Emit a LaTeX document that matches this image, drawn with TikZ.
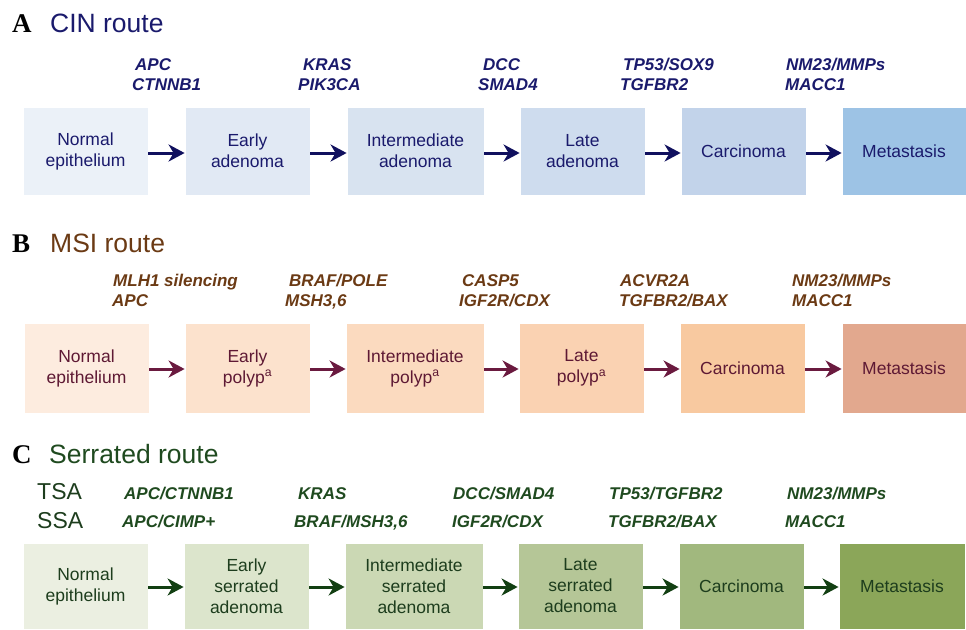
\documentclass[tikz,border=0pt]{standalone}
\usepackage{fontspec}
\setmainfont{Liberation Sans}
\newfontfamily\serifb{Liberation Serif}
\usetikzlibrary{arrows.meta}
\definecolor{aBox1}{HTML}{EBF1F8}
\definecolor{aBox2}{HTML}{E1E9F4}
\definecolor{aBox3}{HTML}{D8E3F0}
\definecolor{aBox4}{HTML}{CEDCEE}
\definecolor{aBox5}{HTML}{C2D3EA}
\definecolor{aBox6}{HTML}{9DC3E5}
\definecolor{aTxt}{HTML}{1A1A6C}
\definecolor{aArr}{HTML}{10105E}
\definecolor{bBox1}{HTML}{FDECDF}
\definecolor{bBox2}{HTML}{FCE2CD}
\definecolor{bBox3}{HTML}{FBDABF}
\definecolor{bBox4}{HTML}{FAD2B2}
\definecolor{bBox5}{HTML}{F8C9A0}
\definecolor{bBox6}{HTML}{E2A88E}
\definecolor{bTitle}{HTML}{6B3A14}
\definecolor{bTxt}{HTML}{5E1934}
\definecolor{bArr}{HTML}{6A1A3F}
\definecolor{cBox1}{HTML}{EBEFE1}
\definecolor{cBox2}{HTML}{DCE5CC}
\definecolor{cBox3}{HTML}{CBD8B4}
\definecolor{cBox4}{HTML}{B5C697}
\definecolor{cBox5}{HTML}{A1B87E}
\definecolor{cBox6}{HTML}{8BA659}
\definecolor{cTitle}{HTML}{1F4A1F}
\definecolor{cTxt}{HTML}{1D3D1D}
\definecolor{cArr}{HTML}{123F12}
\tikzset{
  stage/.style={rectangle, draw=white, line width=0.8pt, inner sep=0pt, align=center,
    font=\fontsize{17.5}{21}\selectfont},
  gene/.style={anchor=base west, inner sep=0pt, font=\fontsize{17}{20}\selectfont\bfseries\itshape},
  letter/.style={anchor=base west, inner sep=0pt, font=\fontsize{27}{30}\selectfont\serifb\bfseries, text=black},
  title/.style={anchor=base west, inner sep=0pt, font=\fontsize{26.5}{30}\selectfont},
  arr/.style={line width=3pt, -{Stealth[length=16pt,width=17pt,inset=5pt]}},
}
\begin{document}
\begin{tikzpicture}[x=1pt,y=-1pt]
\useasboundingbox (0,0) rectangle (966,629);
% ---------------- A ----------------
\node[letter] (la) at (12,32) {A};
\node[title, text=aTxt] (ta) at (50,32) {CIN route};
\begin{scope}[every node/.append style={text=aTxt}]
\node[gene] (ga1a) at (135,70) {APC};
\node[gene] (ga1b) at (132,90) {CTNNB1};
\node[gene] (ga2a) at (303,70) {KRAS};
\node[gene] (ga2b) at (298,90) {PIK3CA};
\node[gene] (ga3a) at (483,70) {DCC};
\node[gene] (ga3b) at (478,90) {SMAD4};
\node[gene] (ga4a) at (623,70) {TP53/SOX9};
\node[gene] (ga4b) at (620,90) {TGFBR2};
\node[gene] (ga5a) at (786,70) {NM23/MMPs};
\node[gene] (ga5b) at (785,90) {MACC1};
\node[stage, fill=aBox1, minimum width=125pt, minimum height=88pt] (a1) at (85.5,151) {Normal\\epithelium};
\node[stage, fill=aBox2, minimum width=125pt, minimum height=88pt] (a2) at (247.5,151) {Early\\adenoma};
\node[stage, fill=aBox3, minimum width=137pt, minimum height=88pt] (a3) at (415.5,151) {Intermediate\\adenoma};
\node[stage, fill=aBox4, minimum width=125pt, minimum height=88pt] (a4) at (582.5,151) {Late\\adenoma};
\node[stage, fill=aBox5, minimum width=125pt, minimum height=88pt] (a5) at (743.5,151) {Carcinoma};
\node[stage, fill=aBox6, minimum width=124pt, minimum height=88pt] (a6) at (904,151) {Metastasis};
\end{scope}
\foreach \s/\t in {a1/a2,a2/a3,a3/a4,a4/a5,a5/a6}
  \draw[arr, aArr] ([yshift=-2pt]\s.east) -- ([yshift=-2pt]\t.west);
% ---------------- B ----------------
\node[letter] (lb) at (12,252) {B};
\node[title, text=bTitle] (tb) at (50,252) {MSI route};
\begin{scope}[every node/.append style={text=bTitle}]
\node[gene] (gb1a) at (113,286) {MLH1 silencing};
\node[gene] (gb1b) at (112,306) {APC};
\node[gene] (gb2a) at (289,286) {BRAF/POLE};
\node[gene] (gb2b) at (285,306) {MSH3,6};
\node[gene] (gb3a) at (462,286) {CASP5};
\node[gene] (gb3b) at (459,306) {IGF2R/CDX};
\node[gene] (gb4a) at (620,286) {ACVR2A};
\node[gene] (gb4b) at (619,306) {TGFBR2/BAX};
\node[gene] (gb5a) at (792,286) {NM23/MMPs};
\node[gene] (gb5b) at (792,306) {MACC1};
\end{scope}
\begin{scope}[every node/.append style={text=bTxt}]
\node[stage, fill=bBox1, minimum width=125pt, minimum height=90pt] (b1) at (86.5,368) {Normal\\epithelium};
\node[stage, fill=bBox2, minimum width=125pt, minimum height=90pt] (b2) at (247.5,368) {Early\\polyp\textsuperscript{a}};
\node[stage, fill=bBox3, minimum width=138pt, minimum height=90pt] (b3) at (415,368) {Intermediate\\polyp\textsuperscript{a}};
\node[stage, fill=bBox4, minimum width=125pt, minimum height=90pt] (b4) at (581.5,368) {Late\\polyp\textsuperscript{a}};
\node[stage, fill=bBox5, minimum width=125pt, minimum height=90pt] (b5) at (742.5,368) {Carcinoma};
\node[stage, fill=bBox6, minimum width=124pt, minimum height=90pt] (b6) at (904,368) {Metastasis};
\end{scope}
\foreach \s/\t in {b1/b2,b2/b3,b3/b4,b4/b5,b5/b6}
  \draw[arr, bArr] ([yshift=-1pt]\s.east) -- ([yshift=-1pt]\t.west);
% ---------------- C ----------------
\node[letter] (lc) at (12,463) {C};
\node[title, text=cTitle] (tc) at (49,463) {Serrated route};
\node[title, font=\fontsize{23}{26}\selectfont, text=cTxt] (tsa) at (37,499) {TSA};
\node[title, font=\fontsize{23}{26}\selectfont, text=cTxt] (ssa) at (37,528) {SSA};
\begin{scope}[every node/.append style={text=cTitle}]
\node[gene] (gc1a) at (124,499) {APC/CTNNB1};
\node[gene] (gc1b) at (122,527) {APC/CIMP+};
\node[gene] (gc2a) at (298,499) {KRAS};
\node[gene] (gc2b) at (294,527) {BRAF/MSH3,6};
\node[gene] (gc3a) at (453,499) {DCC/SMAD4};
\node[gene] (gc3b) at (452,527) {IGF2R/CDX};
\node[gene] (gc4a) at (609,499) {TP53/TGFBR2};
\node[gene] (gc4b) at (608,527) {TGFBR2/BAX};
\node[gene] (gc5a) at (787,499) {NM23/MMPs};
\node[gene] (gc5b) at (785,527) {MACC1};
\end{scope}
\begin{scope}[every node/.append style={text=cTxt}]
\node[stage, fill=cBox1, minimum width=125pt, minimum height=86pt] (c1) at (85.5,586) {Normal\\epithelium};
\node[stage, fill=cBox2, minimum width=125pt, minimum height=86pt] (c2) at (246.5,586) {Early\\serrated\\adenoma};
\node[stage, fill=cBox3, minimum width=138pt, minimum height=86pt] (c3) at (414,586) {Intermediate\\serrated\\adenoma};
\node[stage, fill=cBox4, minimum width=125pt, minimum height=86pt] (c4) at (580.5,586) {Late\\serrated\\adenoma};
\node[stage, fill=cBox5, minimum width=125pt, minimum height=86pt] (c5) at (741.5,586) {Carcinoma};
\node[stage, fill=cBox6, minimum width=126pt, minimum height=86pt] (c6) at (902,586) {Metastasis};
\end{scope}
\foreach \s/\t in {c1/c2,c2/c3,c3/c4,c4/c5,c5/c6}
  \draw[arr, cArr] ([yshift=-1pt]\s.east) -- ([yshift=-1pt]\t.west);
\end{tikzpicture}
\end{document}
